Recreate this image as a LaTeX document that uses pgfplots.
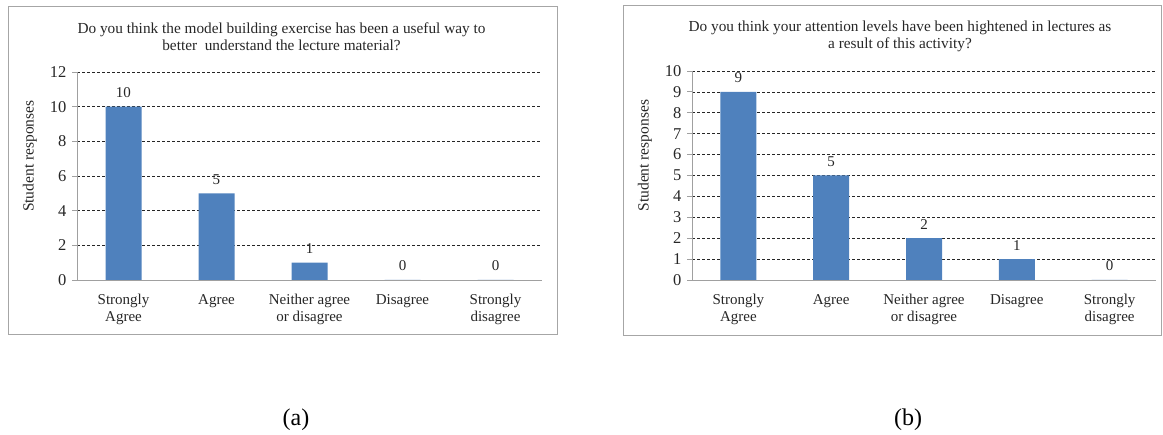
\documentclass[border=0pt]{standalone}
\usepackage{fontspec}
\setmainfont{Liberation Serif}
\usepackage{pgfplots}
\pgfplotsset{compat=1.18}

\definecolor{barblue}{HTML}{4F81BD}
\definecolor{framegray}{HTML}{A6A6A6}
\definecolor{axisgray}{HTML}{A0A0A0}
\definecolor{txt}{HTML}{262626}

\newcommand{\chartfont}{\fontsize{15}{17}\selectfont}

\pgfplotsset{
  surveybar/.style={
    scale only axis, anchor=south west,
    xmin=-0.5, xmax=4.5, ymin=0,
    axis x line*=bottom, axis y line*=left,
    axis line style={axisgray, line width=0.8pt, -},
    xtick={0,...,4},
    xticklabels={{Strongly\\Agree},{Agree},{Neither agree\\or disagree},{Disagree},{Strongly\\disagree}},
    x tick label style={font=\chartfont, align=center, text=txt, yshift=-6pt},
    x tick style={draw=none},
    y tick style={axisgray, line width=0.8pt},
    tick align=outside, major tick length=5pt,
    y tick label style={font=\fontsize{16.5}{18}\selectfont, text=txt, xshift=-2pt},
    /pgf/number format/assume math mode=true,
    ymajorgrids,
    major grid style={black!85, dash pattern=on 3pt off 2pt, line width=0.6pt},
    ylabel={Student responses},
    ylabel style={font=\fontsize{15.5}{17}\selectfont, text=txt, at={(axis description cs:0,0.595)}, anchor=center, yshift=47pt},
    ybar, bar width=36pt,
    nodes near coords,
    every node near coord/.append style={font=\chartfont, text=txt, yshift=5.5pt},
  }
}

\begin{document}
\begin{tikzpicture}
\path[use as bounding box] (0,0) rectangle (1163pt,435pt);

% panel frames
\draw[framegray, line width=0.9pt] (8pt,101pt) rectangle (557pt,429pt);
\draw[framegray, line width=0.9pt] (623pt,100pt) rectangle (1161.5pt,430pt);

% (a) model building exercise
\node[align=center, font=\fontsize{15.3}{17}\selectfont, text=txt] at (281.5pt,398.5pt)
  {Do you think the model building exercise has been a useful way to\\better\ \ understand the lecture material?};
\begin{axis}[surveybar, at={(77pt,155pt)}, width=465pt, height=208pt,
  ymax=12, ytick={0,2,...,12}]
\addplot[fill=barblue, draw=none] coordinates {(0,10) (1,5) (2,1) (3,0) (4,0)};
\end{axis}

% (b) attention levels
\node[align=center, font=\fontsize{15.3}{17}\selectfont, text=txt] at (900pt,398.5pt)
  {Do you think your attention levels have been hightened in lectures as\\a result of this activity?};
\begin{axis}[surveybar, at={(692pt,155pt)}, width=464pt, height=209pt,
  ymax=10, ytick={0,...,10}]
\addplot[fill=barblue, draw=none] coordinates {(0,9) (1,5) (2,2) (3,1) (4,0)};
\end{axis}

\node[font=\fontsize{24}{28}\selectfont] at (296pt,15pt) {(a)};
\node[font=\fontsize{24}{28}\selectfont] at (908pt,15pt) {(b)};
\end{tikzpicture}
\end{document}
